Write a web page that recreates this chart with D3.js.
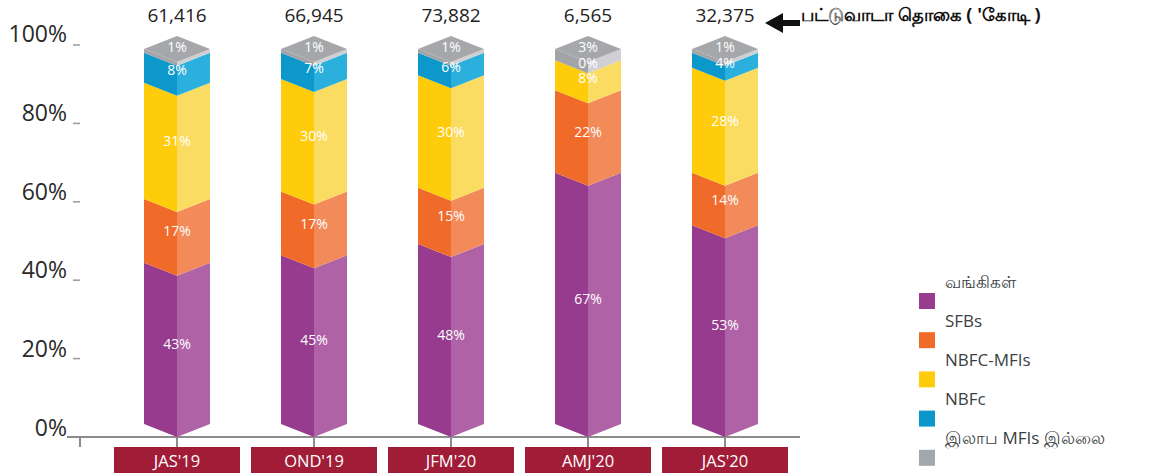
<!DOCTYPE html>
<html>
<head>
<meta charset="utf-8">
<script src="https://cdn.jsdelivr.net/npm/d3@7/dist/d3.min.js"></script>
<style>
  html, body { margin: 0; padding: 0; background: #fff; }
  svg { display: block; }
  text { font-family: "Open Sans", "Noto Sans", "DejaVu Sans", sans-serif; }
</style>
</head>
<body>
<svg id="chart" width="1157" height="475"></svg>
<script>
// ---- data ----
const categories = ["JAS'19", "OND'19", "JFM'20", "AMJ'20", "JAS'20"];
const totals = ["61,416", "66,945", "73,882", "6,565", "32,375"];
const banks = [43, 45, 48, 67, 53];
const sfbs = [17, 17, 15, 22, 14];
const nbfcMfis = [31, 30, 30, 8, 28];
const nbfc = [8, 7, 6, 0, 4];
const notForProfit = [1, 1, 1, 3, 1];
const seriesNames = ["வங்கிகள்", "SFBs", "NBFC-MFIs", "NBFc", "இலாப MFIs இல்லை"];
const yTicks = [0, 20, 40, 60, 80, 100];
const totalCaption = "பட்டுவாடா தொகை ( 'கோடி )";

// ---- styles ----
const leftColors = ["#963B8D", "#F06A29", "#FFCC0B", "#0D98CB", "#A3A4A8"];
const rightColors = ["#B062A7", "#F28A5A", "#FADC63", "#2BB0DD", "#D0D0D2"];
const legendColors = ["#973C8F", "#F06A29", "#FFCC0B", "#0B97CC", "#A3A8AE"];
const topColor = "#A6A7AA";

const seriesValues = [banks, sfbs, nbfcMfis, nbfc, notForProfit];

const svg = d3.select("#chart");

const x = d3.scalePoint().domain(categories).range([177, 725]);
const y = d3.scaleLinear().domain([0, 100]).range([437, 62]); // front edge of prism
const depth = 13;   // vertical drop of side edges
const half = 33;    // half width of prism
const yTick = d3.scaleLinear().domain([0, 100]).range([437, 45]);
const yLab = d3.scaleLinear().domain([0, 100]).range([427, 33]);

// ---- y axis ----
const yAxis = svg.append("g");
yTicks.forEach(t => {
  if (t > 0) {
    yAxis.append("line")
      .attr("x1", 73).attr("x2", 80)
      .attr("y1", yTick(t)).attr("y2", yTick(t))
      .attr("stroke", "#9a9a9a").attr("stroke-width", 1.5);
  }
  yAxis.append("text")
    .attr("x", 67).attr("y", yLab(t))
    .attr("text-anchor", "end").attr("dominant-baseline", "central")
    .attr("font-size", 23).attr("fill", "#2a2a2a")
    .text(t + "%");
});

// ---- x axis ----
svg.append("line")
  .attr("x1", 67).attr("x2", 800).attr("y1", 437).attr("y2", 437)
  .attr("stroke", "#8c8c8c").attr("stroke-width", 2);
[80].concat(categories.map(c => x(c))).forEach(px => {
  svg.append("line")
    .attr("x1", px).attr("x2", px).attr("y1", 437).attr("y2", 447)
    .attr("stroke", "#8c8c8c").attr("stroke-width", 2);
});

// ---- bars ----
const bars = svg.append("g");
categories.forEach((cat, ci) => {
  const cx = x(cat);
  let acc = 0;
  const segs = seriesValues.map((arr, si) => {
    const v0 = acc; acc += arr[ci];
    return { si, v0, v1: acc, val: arr[ci] };
  });
  const g = bars.append("g");
  segs.forEach(s => {
    if (s.v1 <= s.v0) return;
    const yc0 = y(s.v0), yc1 = y(s.v1);
    g.append("polygon")
      .attr("points", [[cx - half, yc0 - depth], [cx, yc0], [cx, yc1], [cx - half, yc1 - depth]].join(" "))
      .attr("fill", leftColors[s.si]);
    g.append("polygon")
      .attr("points", [[cx, yc0], [cx + half, yc0 - depth], [cx + half, yc1 - depth], [cx, yc1]].join(" "))
      .attr("fill", rightColors[s.si]);
  });
  // top face
  const yt = y(100);
  g.append("polygon")
    .attr("points", [[cx, yt], [cx - half, yt - depth], [cx, yt - 2 * depth], [cx + half, yt - depth]].join(" "))
    .attr("fill", topColor);
  // labels
  segs.forEach((s, i) => {
    const isTop = i === segs.length - 1;
    const ly = isTop ? y(100) - depth - 3 : (y(s.v0) + y(s.v1)) / 2 - depth + (s.v1 > 96 ? 2 : 0);
    g.append("text")
      .attr("x", cx).attr("y", ly)
      .attr("text-anchor", "middle").attr("dominant-baseline", "central")
      .attr("font-size", 14).attr("fill", "#fff")
      .text(s.val + "%");
  });
  // total on top
  svg.append("text")
    .attr("x", cx).attr("y", 15)
    .attr("text-anchor", "middle").attr("dominant-baseline", "central")
    .attr("font-size", 19).attr("fill", "#222")
    .text(totals[ci]);
  // category box
  svg.append("rect")
    .attr("x", cx - 63).attr("y", 447).attr("width", 126).attr("height", 26)
    .attr("fill", "#A01C37");
  svg.append("text")
    .attr("x", cx).attr("y", 460)
    .attr("text-anchor", "middle").attr("dominant-baseline", "central")
    .attr("font-size", 16.5).attr("fill", "#fff")
    .text(cat);
});

// ---- caption with arrow ----
svg.append("polygon")
  .attr("points", "765,23 783,13 783,20 800,20 800,26 783,26 783,33")
  .attr("fill", "#111");
svg.append("text")
  .attr("x", 801).attr("y", 14)
  .attr("dominant-baseline", "central")
  .attr("font-size", 18).attr("font-weight", "bold").attr("fill", "#111")
  .text(totalCaption);

// ---- legend ----
const legend = svg.append("g");
seriesNames.forEach((name, i) => {
  const sy = 293 + i * 39.2;
  legend.append("rect")
    .attr("x", 919).attr("y", sy).attr("width", 16).attr("height", 16)
    .attr("fill", legendColors[i]);
  legend.append("text")
    .attr("x", 945).attr("y", sy - 12)
    .attr("dominant-baseline", "central")
    .attr("font-size", 17).attr("fill", "#3a3f44")
    .text(name);
});
</script>
</body>
</html>
